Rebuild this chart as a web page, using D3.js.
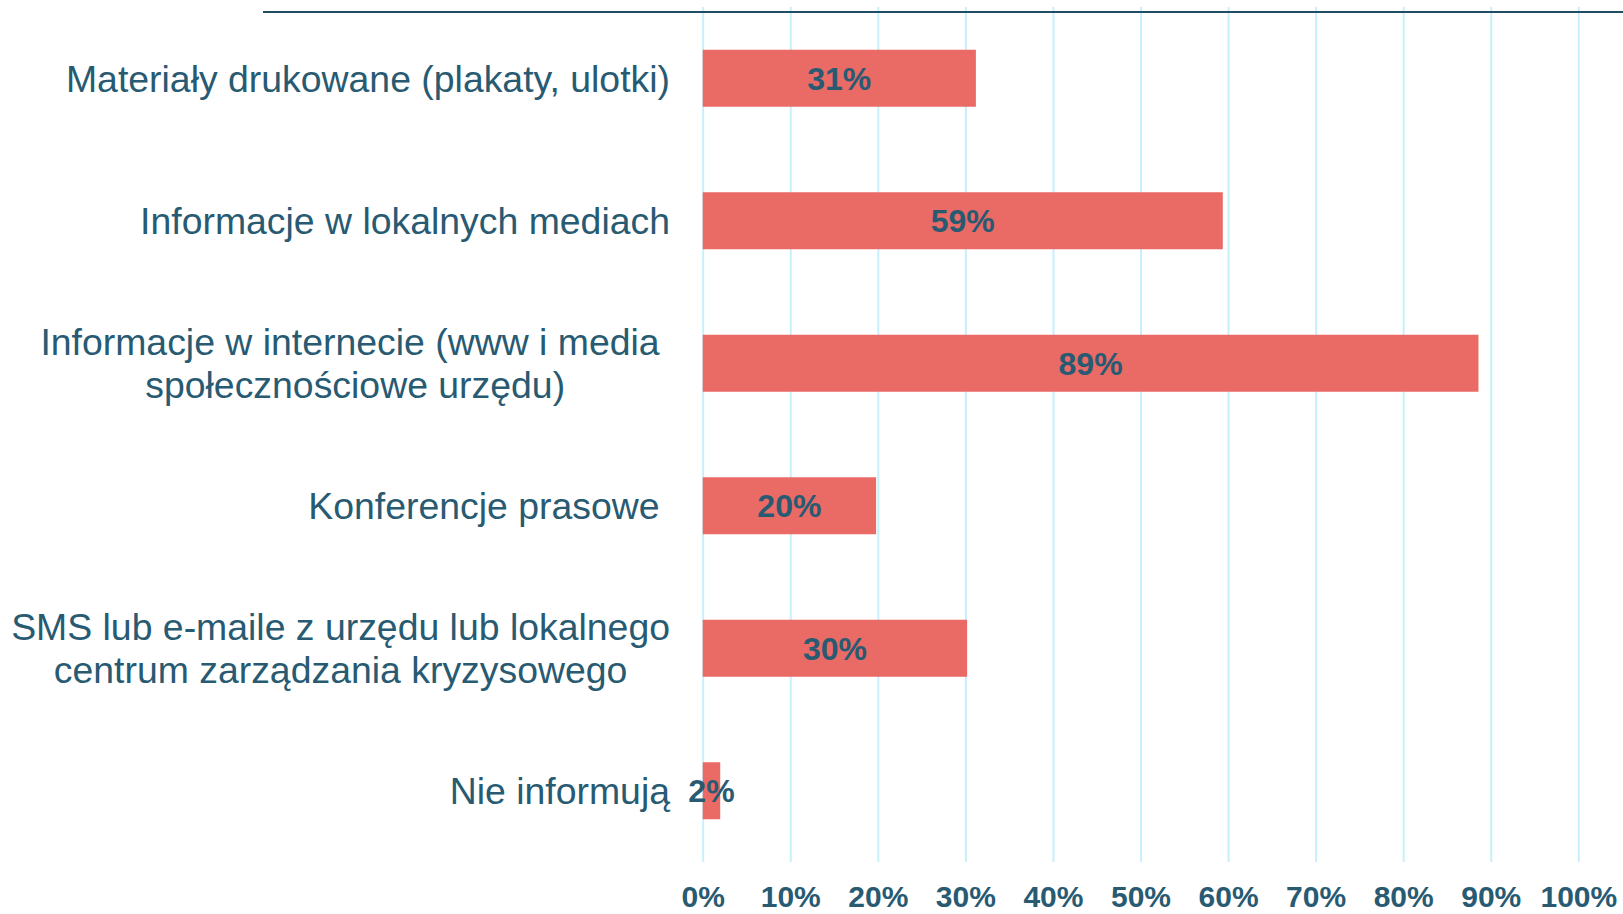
<html>
<head>
<meta charset="utf-8">
<script src="https://d3js.org/d3.v7.min.js"></script>
<style>
  body { margin: 0; background: #fff; }
  text { font-family: "Liberation Sans", Arial, sans-serif; fill: #285a72; }
  .grid line { stroke: #c6f0fa; stroke-width: 2px; }
  .grid .domain { display: none; }
  .tick text { font-weight: bold; font-size: 30px; }
</style>
</head>
<body>
<svg id="chart" width="1623" height="914"></svg>
<script>
// categories (lines of each label)
var categories = [
  ["Materiały drukowane (plakaty, ulotki)"],
  ["Informacje w lokalnych mediach"],
  ["Informacje w internecie (www i media\u00a0", "społecznościowe urzędu)"],
  ["Konferencje prasowe\u00a0"],
  ["SMS lub e-maile z urzędu lub lokalnego", "centrum zarządzania kryzysowego"],
  ["Nie informują"]
];
var values = [31.2, 59.4, 88.6, 19.8, 30.2, 2.0];
var tickValues = [0, 10, 20, 30, 40, 50, 60, 70, 80, 90, 100];

var svg = d3.select("#chart");

var x = d3.scaleLinear().domain([0, 100]).range([702.7, 1578.3]);
var y = d3.scaleBand()
  .domain(d3.range(categories.length))
  .range([7, 862])
  .paddingInner(0.6)
  .paddingOuter(0.3);

// gridlines + tick labels
var axis = d3.axisBottom(x)
  .tickValues(tickValues)
  .tickSize(-855)
  .tickPadding(24)
  .tickFormat(function(d){ return d + "%"; });

svg.append("g")
  .attr("class", "grid")
  .attr("transform", "translate(0,862)")
  .call(axis)
  .selectAll("text")
  .attr("dy", "0.71em");

// top rule
svg.append("line")
  .attr("x1", 263).attr("x2", 1623)
  .attr("y1", 12).attr("y2", 12)
  .style("stroke", "#1f4e64")
  .style("stroke-width", 2);

// bars
svg.selectAll("rect.bar")
  .data(values).enter()
  .append("rect")
  .attr("class", "bar")
  .attr("x", x(0))
  .attr("y", function(d, i){ return y(i); })
  .attr("width", function(d){ return x(d) - x(0); })
  .attr("height", y.bandwidth())
  .style("fill", "#ea6a65");

// value labels
svg.selectAll("text.val")
  .data(values).enter()
  .append("text")
  .attr("class", "val")
  .attr("x", function(d){ return (x(d) + x(0)) / 2; })
  .attr("y", function(d, i){ return y(i) + y.bandwidth() / 2; })
  .attr("dy", "0.36em")
  .attr("text-anchor", "middle")
  .style("font-weight", "bold")
  .style("font-size", "32px")
  .text(function(d){ return Math.round(d) + "%"; });

// category labels: lines centred on each other, block right-aligned
var labelRight = 670, lineH = 42.5;
categories.forEach(function(lines, i){
  var g = svg.append("g");
  var cy = y(i) + y.bandwidth() / 2;
  var texts = lines.map(function(s, j){
    return g.append("text")
      .attr("y", cy + (j - (lines.length - 1) / 2) * lineH)
      .attr("dy", "0.36em")
      .attr("text-anchor", "middle")
      .style("font-size", "37.4px")
      .style("white-space", "pre")
      .text(s);
  });
  var w = d3.max(texts, function(t){ return t.node().getComputedTextLength(); });
  texts.forEach(function(t){ t.attr("x", labelRight - w / 2); });
});
</script>
</body>
</html>
